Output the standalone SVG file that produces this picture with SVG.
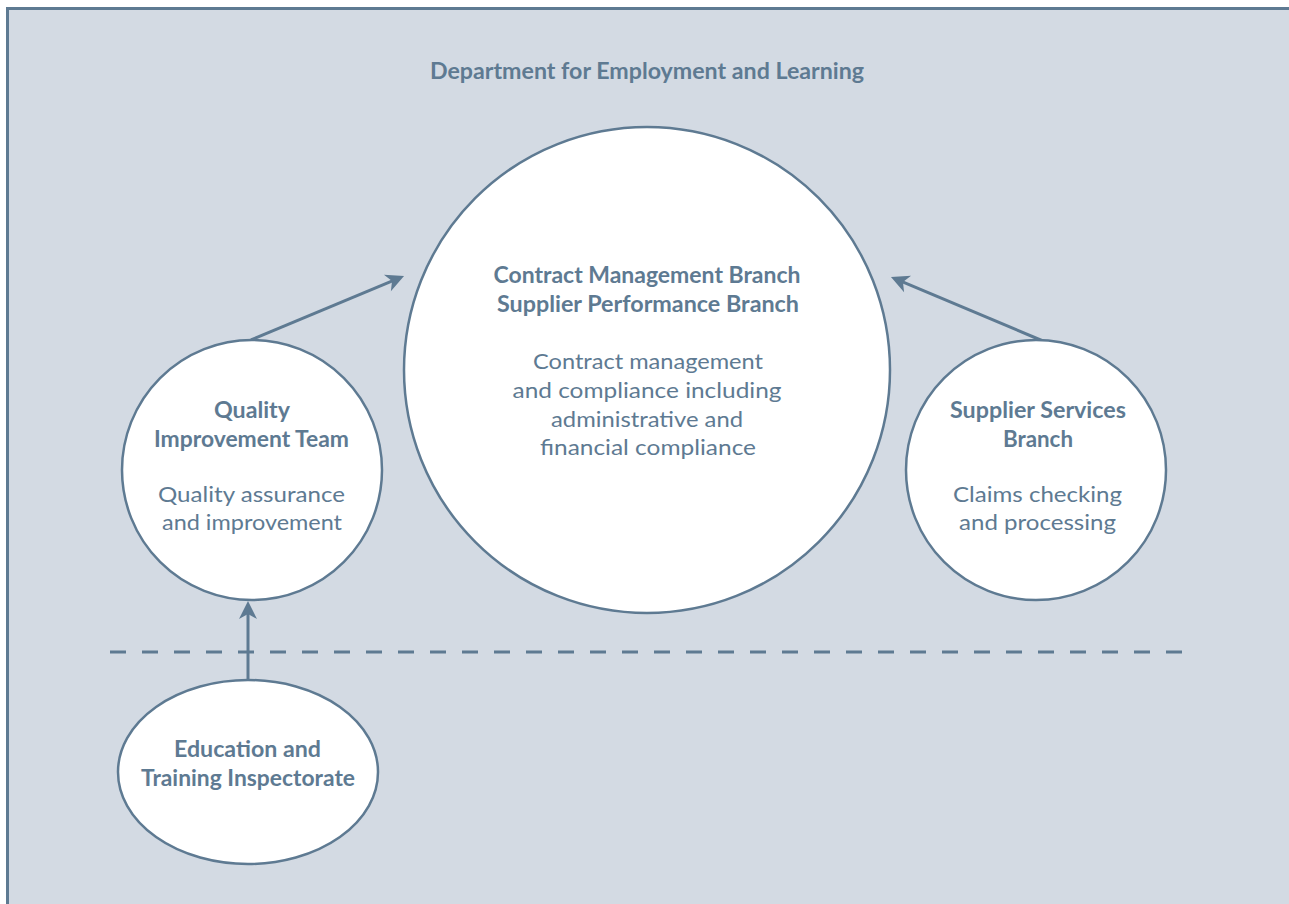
<svg xmlns="http://www.w3.org/2000/svg" width="1289" height="904" viewBox="0 0 1289 904">
<defs>
<style>
.node{fill:#ffffff;stroke:#5e7a92;stroke-width:2.5}
.conn{fill:none;stroke:#5e7a92;stroke-width:3}
.b{font-family:Lato,"Liberation Sans",sans-serif;font-weight:bold;font-size:22px;fill:#5e7a92;text-anchor:middle}
.t{font-family:Lato,"Liberation Sans",sans-serif;font-weight:normal;font-size:22px;fill:#5e7a92;text-anchor:middle}
</style>
<marker id="arr" markerUnits="userSpaceOnUse" markerWidth="24" markerHeight="24" viewBox="-2 -12 24 24" refX="8" refY="0" orient="auto">
<path d="M0,-9 L18,0 L0,9 L5,0 Z" fill="#5e7a92"/>
</marker>
</defs>
<rect x="7.5" y="8.5" width="1300" height="920" fill="#d3dae3" stroke="#5e7a92" stroke-width="3"/>
<text class="b" x="647" y="79" textLength="434" lengthAdjust="spacingAndGlyphs">Department for Employment and Learning</text>
<g id="connectors">
<line class="conn" x1="110" y1="652" x2="1182" y2="652" stroke-dasharray="16 16" stroke-width="2.5"/>
<line class="conn" x1="251" y1="340" x2="394.8" y2="279.9" marker-end="url(#arr)"/>
<line class="conn" x1="1043" y1="341" x2="900.2" y2="280.9" marker-end="url(#arr)"/>
<line class="conn" x1="248" y1="680" x2="248" y2="611" marker-end="url(#arr)"/>
</g>
<g id="contract">
<circle class="node" cx="647" cy="370" r="243"/>
<text class="b" x="647" y="283" textLength="307" lengthAdjust="spacingAndGlyphs">Contract Management Branch</text>
<text class="b" x="648" y="312" textLength="302" lengthAdjust="spacingAndGlyphs">Supplier Performance Branch</text>
<text class="t" x="648" y="369" textLength="230" lengthAdjust="spacingAndGlyphs">Contract management</text>
<text class="t" x="647" y="398" textLength="269" lengthAdjust="spacingAndGlyphs">and compliance including</text>
<text class="t" x="647" y="427" textLength="192" lengthAdjust="spacingAndGlyphs">administrative and</text>
<text class="t" x="648" y="455" textLength="216" lengthAdjust="spacingAndGlyphs">financial compliance</text>
</g>
<g id="quality">
<circle class="node" cx="252" cy="470" r="130"/>
<text class="b" x="252" y="418" textLength="76" lengthAdjust="spacingAndGlyphs">Quality</text>
<text class="b" x="251.5" y="447" textLength="195" lengthAdjust="spacingAndGlyphs">Improvement Team</text>
<text class="t" x="251.5" y="502" textLength="187" lengthAdjust="spacingAndGlyphs">Quality assurance</text>
<text class="t" x="252" y="530" textLength="180" lengthAdjust="spacingAndGlyphs">and improvement</text>
</g>
<g id="supplier">
<circle class="node" cx="1036" cy="470" r="130"/>
<text class="b" x="1038" y="418" textLength="176" lengthAdjust="spacingAndGlyphs">Supplier Services</text>
<text class="b" x="1038" y="447" textLength="70" lengthAdjust="spacingAndGlyphs">Branch</text>
<text class="t" x="1037.5" y="502" textLength="169" lengthAdjust="spacingAndGlyphs">Claims checking</text>
<text class="t" x="1037.5" y="530" textLength="157" lengthAdjust="spacingAndGlyphs">and processing</text>
</g>
<g id="education">
<ellipse class="node" cx="248" cy="772" rx="130" ry="92"/>
<text class="b" x="247.5" y="757" textLength="147" lengthAdjust="spacingAndGlyphs">Education and</text>
<text class="b" x="248" y="786" textLength="214" lengthAdjust="spacingAndGlyphs">Training Inspectorate</text>
</g>
</svg>
